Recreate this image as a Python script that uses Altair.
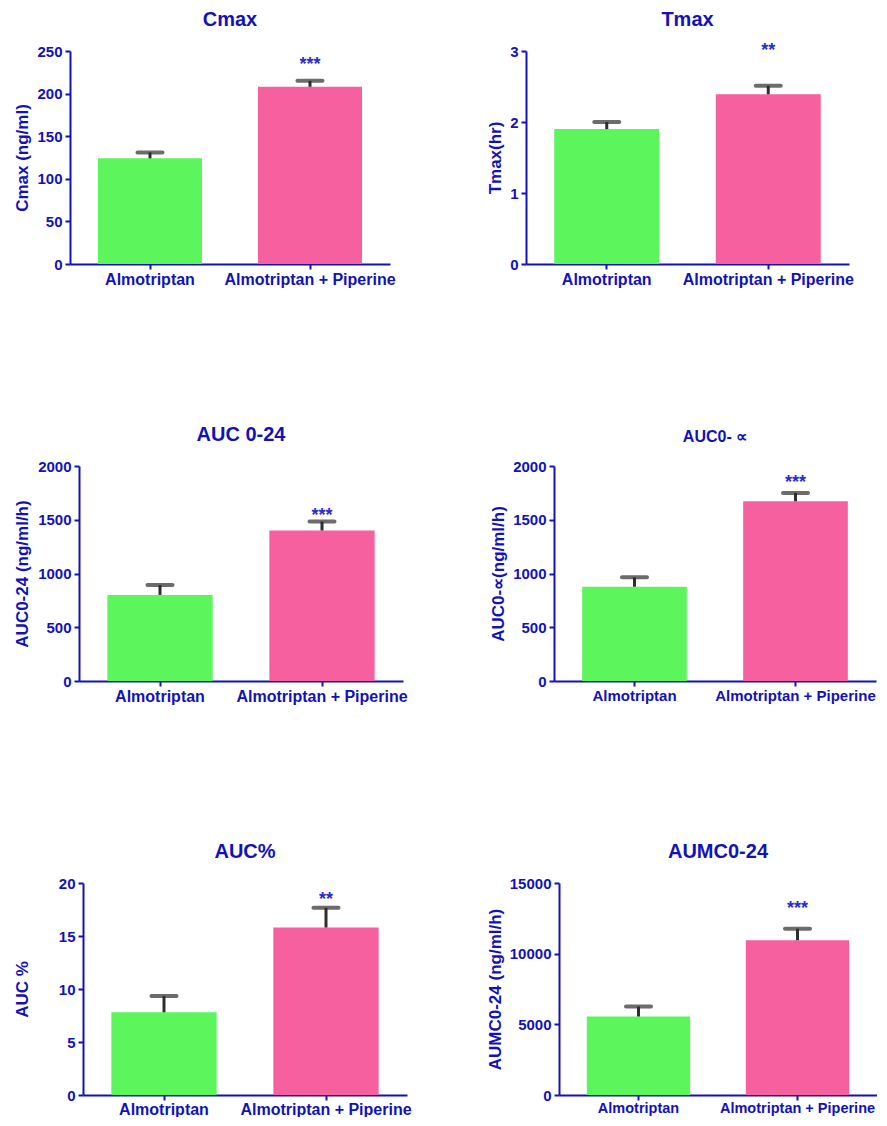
import altair as alt
import pandas as pd

# ---------------- data ----------------
groups = ["Almotriptan", "Almotriptan + Piperine"]

titles = ["Cmax", "Tmax", "AUC 0-24", "AUC0- \u221d", "AUC%", "AUMC0-24"]
y_titles = ["Cmax (ng/ml)", "Tmax(hr)", "AUC0-24 (ng/ml/h)",
            "AUC0-\u221d(ng/ml/h)", "AUC %", "AUMC0-24 (ng/ml/h)"]

means_alm = [124, 1.9, 801, 877, 7.8, 5555]
means_pip = [208, 2.39, 1400, 1672, 15.8, 10950]
sem_alm = [7, 0.1, 91, 87, 1.55, 703]
sem_pip = [7, 0.12, 83, 78, 1.86, 816]

y_max = [250, 3, 2000, 2000, 20, 15000]
y_ticks = [
    [0, 50, 100, 150, 200, 250],
    [0, 1, 2, 3],
    [0, 500, 1000, 1500, 2000],
    [0, 500, 1000, 1500, 2000],
    [0, 5, 10, 15, 20],
    [0, 5000, 10000, 15000],
]

sig_labels = ["***", "**", "***", "***", "**", "***"]
sig_y = [240, 3.07, 1579, 1884, 18.9, 13523]

# ---------------- style ----------------
BLUE = "#1212b8"
STAR = "#2b2bcc"
GREEN = "#5cf55c"
PINK = "#f7609f"
ERR = "#2e2e2e"
FONT = "Liberation Sans"


def panel(i, width, height, ext, tpad, tsize, toffset, xlabel_size=16, xlabel_pad=2):
    df = pd.DataFrame({
        "group": groups,
        "mean": [means_alm[i], means_pip[i]],
        "sem": [sem_alm[i], sem_pip[i]],
    })
    df["top"] = df["mean"] + df["sem"]
    sig_df = pd.DataFrame({"group": [groups[1]], "y": [sig_y[i]], "label": [sig_labels[i]]})

    x = alt.X("group:N", sort=groups, title=None,
              scale=alt.Scale(paddingInner=0.35, paddingOuter=0.175),
              axis=alt.Axis(labelAngle=0, labelFontSize=xlabel_size, labelPadding=xlabel_pad))
    yscale = alt.Scale(domain=[0, y_max[i]], nice=False, zero=True)
    y = alt.Y("mean:Q", scale=yscale,
              axis=alt.Axis(values=y_ticks[i], format="d", title=y_titles[i],
                            minExtent=ext, maxExtent=ext, titlePadding=tpad))

    bars = alt.Chart(df).mark_bar().encode(
        x=x, y=y,
        color=alt.Color("group:N", scale=alt.Scale(domain=groups, range=[GREEN, PINK]), legend=None),
    )
    stem = alt.Chart(df).mark_rule(color=ERR, strokeWidth=3).encode(
        x=alt.X("group:N", sort=groups), y=alt.Y("mean:Q", scale=yscale), y2="top:Q")
    cap = alt.Chart(df).mark_tick(color=ERR, thickness=4, size=29, cornerRadius=2).encode(
        x=alt.X("group:N", sort=groups), y=alt.Y("top:Q", scale=yscale))
    sig = alt.Chart(sig_df).mark_text(color=STAR, fontSize=18, font=FONT, fontWeight="bold",
                                      baseline="middle", dy=5).encode(
        x=alt.X("group:N", sort=groups), y=alt.Y("y:Q", scale=yscale), text="label:N")

    return alt.layer(bars, stem, cap, sig).properties(
        width=width, height=height,
        title=alt.Title(titles[i], fontSize=tsize, offset=toffset),
    )


def spacer(w):
    # invisible layout spacer (no visible mark)
    return alt.Chart(pd.DataFrame({"v": [0]})).mark_rule(opacity=0, strokeWidth=0).encode(
        x=alt.value(0), y=alt.value(0), y2=alt.value(1)
    ).properties(width=w, height=1)


p1 = panel(0, 320, 213, 33, 6, 20, 14)
p2 = panel(1, 323, 213, 15, 7, 20, 12)
p3 = panel(2, 324, 215, 41, 7, 20, 14)
p4 = panel(3, 322, 215, 41, 6, 16, 14, xlabel_size=15)
p5 = panel(4, 324, 212, 25, 27, 20, 14, xlabel_pad=1)
p6 = panel(5, 318, 212, 49, 6, 20, 14, xlabel_size=14.5, xlabel_pad=1)

row1 = alt.hconcat(spacer(1), p1, spacer(90), p2, spacing=0)
row2 = alt.hconcat(spacer(1), p3, spacer(81), p4, spacing=0)
row3 = alt.hconcat(spacer(1), p5, spacer(74), p6, spacing=0)

chart = alt.vconcat(row1, row2, row3, spacing=138).properties(
    padding={"left": 4, "top": 2, "right": 0, "bottom": 0}
).configure_view(strokeWidth=0).configure_axis(
    labelFont=FONT, labelFontWeight="bold", labelColor=BLUE,
    titleFont=FONT, titleFontWeight="bold", titleColor=BLUE,
    domainColor=BLUE, domainWidth=2, tickColor=BLUE, tickWidth=2, tickSize=5,
    grid=False,
).configure_axisY(
    labelFontSize=15, titleFontSize=17, labelPadding=3
).configure_title(font=FONT, fontWeight="bold", color=BLUE, anchor="middle")

chart.save("out.html", embed_options={"renderer": "svg", "actions": False})
